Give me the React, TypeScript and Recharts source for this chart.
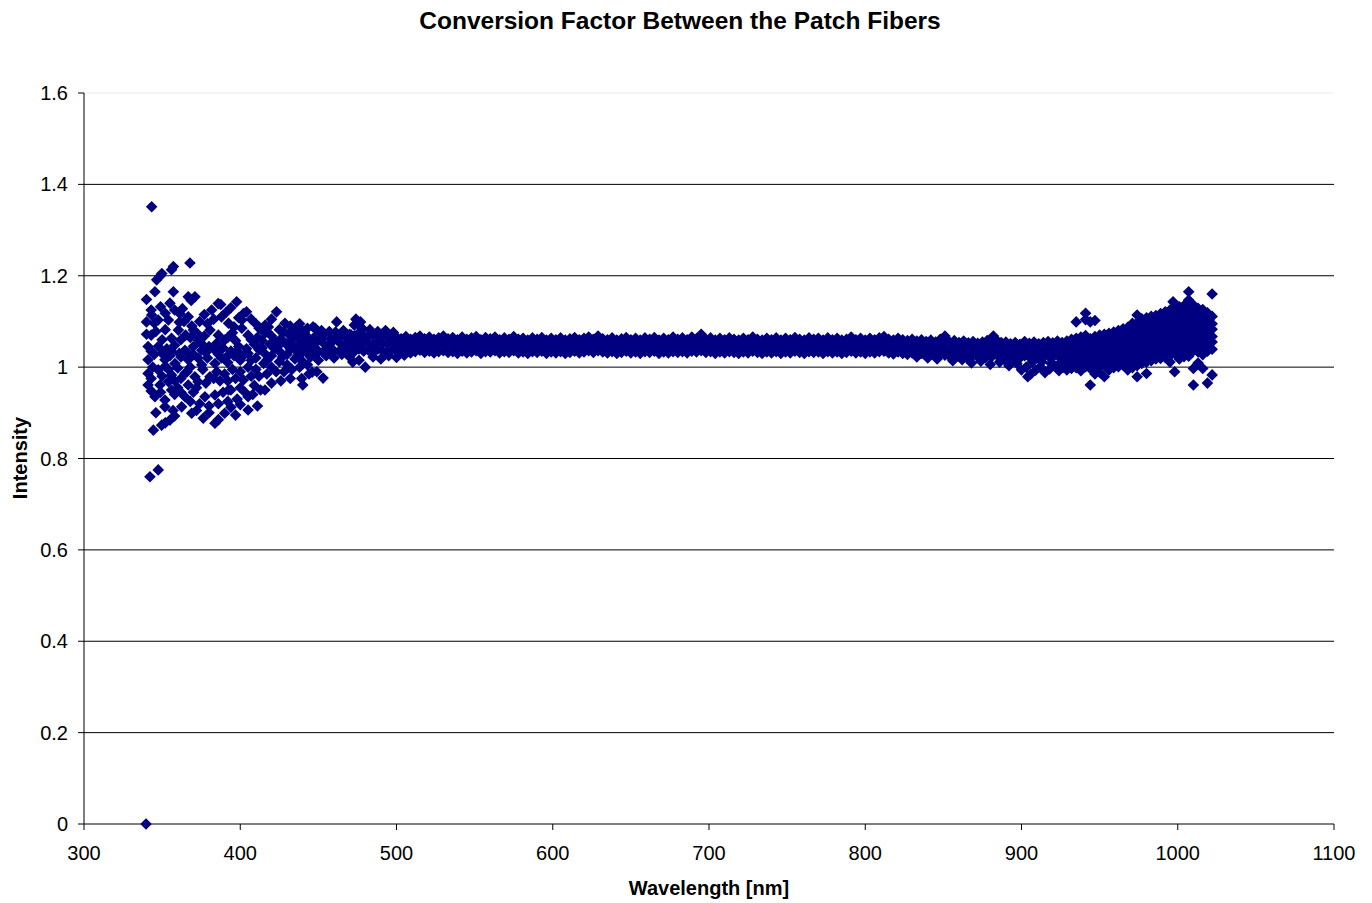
import { CartesianGrid, ReferenceLine, Scatter, ScatterChart, XAxis, YAxis } from "recharts"

// wavelength [nm], intensity — short-wave end where the ratio is noisy
const uvPoints: [number, number][] = [
  [339.7, 0], [343.3, 1.351], [342.2, 0.76], [347.5, 0.775],
  [344.4, 0.862], [349.7, 0.873], [355, 0.884], [352, 0.878],
  [340, 1.148], [345.4, 1.165], [346.5, 1.191], [348.6, 1.199], [349.8, 1.205], [357.2, 1.22], [356, 1.213],
  [367.8, 1.228], [357.2, 1.165], [366.7, 1.154], [371, 1.154], [368.6, 1.146],
  [343.3, 1.114], [340, 1.099], [345, 1.096], [347.5, 1.103], [354, 1.103], [361.4, 1.117], [366.7, 1.11],
  [358, 1.125], [363, 1.128], [381.7, 1.125], [385.9, 1.139], [387.5, 1.137], [397.7, 1.143], [402, 1.117],
  [404, 1.121], [399, 1.108], [423.2, 1.121], [392.5, 1.096], [401, 1.103], [428.6, 1.096], [439.3, 1.081],
  [415.8, 1.074], [410, 1.095], [418, 1.088], [432, 1.09], [436, 1.088], [443, 1.085], [448, 1.085],
  [452, 1.08], [461.7, 1.099], [475.7, 1.099], [446.6, 1.088], [473, 1.092], [457, 1.078], [466, 1.08],
  [343, 1.125], [349, 1.132], [352, 1.118], [355, 1.14], [361, 1.098], [364, 1.1], [369, 1.09], [374, 1.1],
  [377, 1.115], [379, 1.095], [383, 1.105], [388, 1.11], [391, 1.12], [394, 1.13], [396, 1.088], [407, 1.105],
  [412, 1.085], [416, 1.092], [420, 1.105], [425, 1.082], [434, 1.078], [438, 1.095],
  [360.4, 1.081], [370, 1.081], [380.6, 1.081], [373.3, 1.059], [356, 1.063], [390, 1.059], [384.9, 1.052],
  [365, 1.07], [377, 1.068], [395, 1.075], [405, 1.07], [411, 1.065], [420, 1.068], [426, 1.062], [431, 1.072],
  [437, 1.066], [442, 1.07], [447, 1.064], [453, 1.07], [458, 1.062], [463, 1.068], [468, 1.064], [343, 1.07], [350, 1.06],
  [441, 1.075], [451, 1.075], [461, 1.077], [471, 1.07], [442, 1.06], [452, 1.062], [462, 1.06],
  [340, 1.072], [346, 1.078], [352, 1.082], [362, 1.06], [368, 1.065], [372, 1.075], [375, 1.052], [386, 1.07],
  [392, 1.065], [397, 1.058], [401, 1.085], [407, 1.06], [414, 1.058], [417, 1.078], [423, 1.055], [428, 1.078],
  [433, 1.06], [438, 1.045],
  [341, 1.045], [347.5, 1.045], [353, 1.04], [358, 1.048], [364.6, 1.037], [370, 1.045], [375.3, 1.037],
  [380, 1.045], [383.8, 1.037], [389, 1.042], [394, 1.035], [399, 1.045], [404, 1.04], [409, 1.05],
  [414, 1.042], [419, 1.05], [424, 1.045], [429, 1.052], [434, 1.048], [439, 1.055], [444, 1.05],
  [449, 1.055], [454, 1.05], [459, 1.056], [464, 1.052], [469, 1.055], [447, 1.045], [457, 1.045], [467, 1.045],
  [343, 1.035], [350, 1.03], [356, 1.035], [361, 1.03], [367, 1.03], [373, 1.02], [378, 1.032], [386, 1.028],
  [392, 1.025], [398, 1.035], [402, 1.025], [407, 1.015], [412, 1.038], [417, 1.015], [422, 1.04], [427, 1.022],
  [432, 1.04], [437, 1.025], [442, 1.045],
  [341, 1.016], [345, 1.028], [351.8, 1.016], [355, 1.025], [358.2, 1.008], [362, 1.022], [366.7, 1.016],
  [370, 1.028], [375.3, 1.005], [379, 1.02], [383.8, 1.008], [388, 1.02], [392, 1.01], [396, 1.025],
  [400, 1.015], [405, 1.03], [410, 1.02], [415, 1.032], [420, 1.025], [425, 1.035], [430, 1.028],
  [435, 1.038], [440, 1.032], [445, 1.04], [450, 1.035], [455, 1.04], [460, 1.036], [465, 1.04],
  [444, 1.028], [449, 1.03], [454, 1.03], [459, 1.032], [464, 1.035], [469, 1.038],
  [341, 0.986], [344, 1.0], [347.5, 0.994], [352, 1.002], [356, 0.983], [360, 0.998], [364.6, 0.986],
  [368, 1.0], [371, 0.979], [376, 0.995], [380.6, 0.979], [385, 0.99], [390, 0.985], [395, 0.995],
  [400, 0.99], [405, 1.0], [410, 0.995], [415, 1.008], [420, 1.0], [425, 1.012], [430, 1.005],
  [435, 1.018], [440, 1.012], [445, 1.022], [450, 1.015], [455, 1.025], [460, 1.02], [465, 1.028], [470, 1.022],
  [343, 0.975], [350, 0.98], [354, 0.995], [358, 0.97], [362, 0.975], [366, 0.99], [373, 0.968], [378, 0.965],
  [383, 0.975], [387, 0.97], [392, 0.97], [397, 0.975], [402, 0.972], [407, 0.98], [412, 0.98], [417, 0.985],
  [423, 0.99], [428, 0.99], [433, 0.995], [438, 1.0], [443, 1.005],
  [341, 0.961], [348.6, 0.961], [354, 0.968], [360, 0.955], [366.7, 0.961], [372, 0.955],
  [343, 0.948], [349, 0.945], [356, 0.95], [362, 0.945], [368, 0.925], [374, 0.92], [380, 0.915], [386, 0.92],
  [392, 0.925], [398, 0.93], [403, 0.945], [408, 0.94], [413, 0.95],
  [345.4, 0.935], [351.8, 0.928], [358, 0.94], [364.6, 0.935], [370, 0.945], [377.4, 0.935], [383.8, 0.939],
  [389, 0.945], [394, 0.95], [400, 0.955], [392.5, 0.95], [405, 0.935], [409, 0.96], [415.8, 0.95],
  [420, 0.965], [426, 0.97], [432, 0.975], [439.3, 0.975], [444, 0.985], [449, 0.99], [453, 0.976],
  [446, 0.989], [440, 0.961],
  [351.8, 0.913], [357, 0.905], [362.5, 0.913], [368.9, 0.899], [376.3, 0.888], [383.8, 0.877],
  [390, 0.899], [397, 0.895], [405, 0.906], [411, 0.915], [386, 0.885],
  [346, 0.9], [358, 0.893], [372, 0.905], [380, 0.9], [394, 0.912], [400, 0.918],
]

// visible range: the ratio sits in a tight band
const bandWavelengths = [
  470, 473, 476, 479, 482, 485, 488, 491, 494, 497,
  500, 503, 506, 509, 512, 515, 518, 521, 524, 527,
  530, 533, 536, 539, 542, 545, 548, 551, 554, 557,
  560, 563, 566, 569, 572, 575, 578, 581, 584, 587,
  590, 593, 596, 599, 602, 605, 608, 611, 614, 617,
  620, 623, 626, 629, 632, 635, 638, 641, 644, 647,
  650, 653, 656, 659, 662, 665, 668, 671, 674, 677,
  680, 683, 686, 689, 692, 695, 698, 701, 704, 707,
  710, 713, 716, 719, 722, 725, 728, 731, 734, 737,
  740, 743, 746, 749, 752, 755, 758, 761, 764, 767,
  770, 773, 776, 779, 782, 785, 788, 791, 794, 797,
  800, 803, 806, 809, 812, 815, 818, 821, 824, 827,
  830, 833, 836, 839, 842, 845, 848, 851, 854, 857,
  860, 863, 866, 869, 872, 875, 878, 881, 884, 887,
  890, 893, 896, 899, 902, 905, 908, 911, 914, 917,
  920, 923, 926,
]

const bandHigh = [
  1.072, 1.068, 1.075, 1.07, 1.066, 1.071, 1.068, 1.073, 1.067, 1.069,
  1.066, 1.062, 1.067, 1.061, 1.065, 1.068, 1.062, 1.066, 1.061, 1.064,
  1.068, 1.062, 1.065, 1.06, 1.066, 1.061, 1.064, 1.067, 1.06, 1.065,
  1.062, 1.066, 1.06, 1.064, 1.061, 1.067, 1.061, 1.063, 1.059, 1.064,
  1.061, 1.065, 1.059, 1.063, 1.06, 1.064, 1.059, 1.062, 1.065, 1.06,
  1.063, 1.066, 1.061, 1.068, 1.062, 1.06, 1.064, 1.059, 1.062, 1.065,
  1.06, 1.063, 1.059, 1.064, 1.061, 1.065, 1.059, 1.063, 1.06, 1.066,
  1.061, 1.064, 1.06, 1.066, 1.062, 1.072, 1.061, 1.064, 1.059, 1.063,
  1.06, 1.064, 1.061, 1.059, 1.063, 1.06, 1.066, 1.061, 1.059, 1.063,
  1.06, 1.064, 1.059, 1.063, 1.06, 1.065, 1.061, 1.059, 1.064, 1.061,
  1.063, 1.059, 1.064, 1.06, 1.063, 1.059, 1.061, 1.066, 1.06, 1.063,
  1.059, 1.063, 1.06, 1.064, 1.067, 1.061, 1.059, 1.063, 1.06, 1.058,
  1.061, 1.057, 1.06, 1.056, 1.059, 1.055, 1.061, 1.057, 1.055, 1.058,
  1.054, 1.057, 1.053, 1.056, 1.052, 1.055, 1.058, 1.053, 1.059, 1.054,
  1.055, 1.051, 1.054, 1.05, 1.056, 1.052, 1.055, 1.051, 1.054, 1.056,
  1.053, 1.057, 1.054,
]

const bandMid = [
  1.055, 1.051, 1.057, 1.052, 1.054, 1.05, 1.056, 1.053, 1.051, 1.054,
  1.05, 1.048, 1.052, 1.047, 1.05, 1.053, 1.048, 1.051, 1.047, 1.05,
  1.052, 1.048, 1.05, 1.046, 1.051, 1.047, 1.049, 1.052, 1.046, 1.05,
  1.048, 1.051, 1.046, 1.049, 1.047, 1.052, 1.047, 1.048, 1.045, 1.049,
  1.047, 1.05, 1.045, 1.048, 1.046, 1.049, 1.045, 1.047, 1.05, 1.046,
  1.048, 1.051, 1.047, 1.052, 1.048, 1.046, 1.049, 1.045, 1.047, 1.05,
  1.046, 1.048, 1.045, 1.049, 1.047, 1.05, 1.045, 1.048, 1.046, 1.05,
  1.047, 1.049, 1.046, 1.051, 1.048, 1.053, 1.047, 1.049, 1.045, 1.048,
  1.046, 1.049, 1.047, 1.045, 1.048, 1.046, 1.05, 1.047, 1.045, 1.048,
  1.046, 1.049, 1.045, 1.048, 1.046, 1.05, 1.047, 1.045, 1.049, 1.047,
  1.048, 1.045, 1.049, 1.046, 1.048, 1.045, 1.047, 1.05, 1.046, 1.048,
  1.045, 1.048, 1.046, 1.049, 1.051, 1.046, 1.044, 1.048, 1.045, 1.043,
  1.046, 1.042, 1.045, 1.041, 1.044, 1.04, 1.045, 1.041, 1.039, 1.042,
  1.039, 1.042, 1.038, 1.041, 1.037, 1.04, 1.043, 1.038, 1.042, 1.038,
  1.04, 1.036, 1.039, 1.035, 1.04, 1.037, 1.039, 1.035, 1.038, 1.04,
  1.037, 1.041, 1.038,
]

const bandLow = [
  1.038, 1.034, 1.04, 1.035, 1.037, 1.032, 1.039, 1.036, 1.033, 1.037,
  1.035, 1.032, 1.036, 1.031, 1.034, 1.037, 1.032, 1.035, 1.031, 1.034,
  1.036, 1.032, 1.034, 1.03, 1.035, 1.031, 1.033, 1.036, 1.03, 1.034,
  1.033, 1.036, 1.031, 1.034, 1.032, 1.036, 1.031, 1.033, 1.03, 1.034,
  1.032, 1.035, 1.03, 1.033, 1.031, 1.034, 1.03, 1.032, 1.035, 1.031,
  1.033, 1.036, 1.032, 1.036, 1.033, 1.031, 1.034, 1.03, 1.032, 1.035,
  1.031, 1.033, 1.03, 1.034, 1.032, 1.035, 1.03, 1.033, 1.031, 1.034,
  1.032, 1.034, 1.031, 1.035, 1.033, 1.036, 1.032, 1.034, 1.03, 1.033,
  1.031, 1.034, 1.032, 1.03, 1.033, 1.031, 1.035, 1.032, 1.03, 1.033,
  1.031, 1.034, 1.03, 1.033, 1.031, 1.035, 1.032, 1.03, 1.034, 1.032,
  1.033, 1.03, 1.034, 1.031, 1.033, 1.03, 1.032, 1.035, 1.031, 1.033,
  1.03, 1.033, 1.031, 1.034, 1.035, 1.031, 1.029, 1.033, 1.03, 1.028,
  1.031, 1.027, 1.03, 1.026, 1.029, 1.025, 1.03, 1.026, 1.024, 1.027,
  1.024, 1.027, 1.023, 1.026, 1.022, 1.025, 1.028, 1.023, 1.027, 1.023,
  1.025, 1.021, 1.024, 1.02, 1.025, 1.022, 1.024, 1.02, 1.023, 1.025,
  1.022, 1.026, 1.023,
]

const bandOutliers: [number, number][] = [
  [472, 1.011], [476, 1.015], [480, 1.0], [485, 1.022], [490, 1.018], [495, 1.025], [500, 1.021], [505, 1.026],
  [478, 1.085], [483, 1.082], [488, 1.078], [493, 1.08], [498, 1.076], [474, 1.105], [477, 1.099],
  [851, 1.068], [882, 1.068], [833, 1.022], [840, 1.02], [846, 1.018],
  [856, 1.014], [862, 1.016], [868, 1.009], [874, 1.013], [880, 1.006], [886, 1.011], [892, 1.003],
  [897, 1.008], [900, 0.994], [903, 1.0], [906, 0.985], [909, 0.993], [912, 1.001], [915, 0.988],
  [918, 0.996], [921, 1.004], [924, 0.992], [927, 1.0], [904, 0.979], [865, 1.02], [877, 1.021],
  [889, 1.016], [895, 1.018], [907, 1.011], [913, 1.012], [919, 1.008], [925, 1.01],
]

// near-infrared end: wavelength and the spread of values read at it
const nirColumns: [number, number[]][] = [
  [929, [1.057, 1.044, 1.03, 1.018, 1.005, 0.994]],
  [932, [1.061, 1.046, 1.035, 1.02, 1.009, 0.997]],
  [935, [1.099, 1.063, 1.051, 1.036, 1.025, 1.01, 0.999]],
  [938, [1.066, 1.048, 1.037, 1.022, 1.011, 0.992]],
  [941, [1.118, 1.104, 1.069, 1.053, 1.041, 1.026, 1.015, 1.001]],
  [944, [1.099, 1.062, 1.051, 1.036, 1.025, 1.01, 0.997, 0.961]],
  [947, [1.102, 1.067, 1.052, 1.04, 1.025, 1.014, 0.999, 0.985]],
  [950, [1.07, 1.054, 1.043, 1.028, 1.017, 1.002, 0.989]],
  [953, [1.072, 1.056, 1.045, 1.03, 1.019, 1.004, 0.979]],
  [956, [1.074, 1.06, 1.045, 1.034, 1.019, 1.008, 0.994]],
  [959, [1.077, 1.061, 1.05, 1.035, 1.024, 1.009, 0.999]],
  [962, [1.08, 1.066, 1.051, 1.04, 1.025, 1.014, 1.001]],
  [965, [1.084, 1.068, 1.056, 1.041, 1.03, 1.015, 1.004]],
  [968, [1.087, 1.073, 1.057, 1.046, 1.031, 1.02, 1.005, 0.994]],
  [971, [1.096, 1.079, 1.067, 1.051, 1.04, 1.025, 1.014, 0.999]],
  [974, [1.114, 1.097, 1.084, 1.068, 1.056, 1.041, 1.03, 1.015, 1.003, 0.979]],
  [977, [1.106, 1.089, 1.077, 1.061, 1.049, 1.034, 1.023, 1.008]],
  [980, [1.108, 1.092, 1.08, 1.064, 1.052, 1.037, 1.026, 1.011, 0.986]],
  [983, [1.111, 1.095, 1.083, 1.067, 1.055, 1.04, 1.029, 1.014]],
  [986, [1.113, 1.099, 1.083, 1.071, 1.055, 1.044, 1.029, 1.018]],
  [989, [1.117, 1.101, 1.089, 1.073, 1.061, 1.045, 1.034, 1.019]],
  [992, [1.121, 1.105, 1.093, 1.077, 1.065, 1.049, 1.037, 1.021]],
  [995, [1.125, 1.109, 1.097, 1.081, 1.069, 1.053, 1.041, 1.025, 1.011]],
  [997, [1.143, 1.129]],
  [998, [1.126, 1.114, 1.098, 1.086, 1.07, 1.058, 1.042, 1.03, 0.99]],
  [1001, [1.132, 1.116, 1.104, 1.088, 1.076, 1.06, 1.048, 1.032, 1.018]],
  [1004, [1.135, 1.119, 1.107, 1.091, 1.079, 1.063, 1.051, 1.035, 1.023]],
  [1007, [1.165, 1.147, 1.123, 1.107, 1.095, 1.079, 1.067, 1.051, 1.039, 1.024]],
  [1010, [1.136, 1.12, 1.108, 1.092, 1.08, 1.064, 1.052, 1.036, 0.997, 0.961]],
  [1013, [1.129, 1.117, 1.101, 1.089, 1.073, 1.061, 1.045, 1.033, 1.009]],
  [1016, [1.126, 1.111, 1.099, 1.083, 1.071, 1.055, 1.043, 1.027, 0.997]],
  [1019, [1.119, 1.103, 1.091, 1.075, 1.063, 1.047, 1.035, 0.965]],
  [1022, [1.16, 1.111, 1.095, 1.083, 1.067, 1.055, 1.039, 0.983]],
]

const xTicks = [300, 400, 500, 600, 700, 800, 900, 1000, 1100]
const yTicks = [0, 0.2, 0.4, 0.6, 0.8, 1, 1.2, 1.4, 1.6]
const gridValues = [0.2, 0.4, 0.6, 0.8, 1, 1.2, 1.4]

const points = [
  ...uvPoints.map(([w, v]) => ({ w, v })),
  ...bandWavelengths.flatMap((w, i) => [
    { w, v: bandHigh[i] },
    { w, v: bandMid[i] },
    { w, v: bandLow[i] },
  ]),
  ...bandOutliers.map(([w, v]) => ({ w, v })),
  ...nirColumns.flatMap(([w, vals]) => vals.map((v) => ({ w, v }))),
]

const NAVY = "#000080"
const FONT = '"Liberation Sans", Arial, sans-serif'

const Diamond = (props: any) => {
  const { cx, cy } = props
  if (cx == null || cy == null) return null
  const r = 5.8
  return <path d={`M${cx},${cy - r}L${cx + r},${cy}L${cx},${cy + r}L${cx - r},${cy}Z`} fill={NAVY} />
}

const App = () => {
  return (
    <div
      style={{
        position: "absolute",
        left: 0,
        top: 0,
        width: 1372,
        height: 903,
        background: "#fff",
        fontFamily: FONT,
        color: "#000",
      }}
    >
      <div
        style={{
          position: "absolute",
          left: 680,
          top: 8,
          transform: "translateX(-50%)",
          fontSize: 24.5,
          lineHeight: "25px",
          fontWeight: "bold",
          whiteSpace: "nowrap",
        }}
      >
        Conversion Factor Between the Patch Fibers
      </div>
      <ScatterChart width={1372} height={903} margin={{ top: 93, right: 38, bottom: 19, left: 24 }}>
        <CartesianGrid vertical={false} horizontalValues={gridValues} stroke="#000" strokeWidth={1} />
        <ReferenceLine y={1.6} stroke="#ececec" />
        <XAxis
          type="number"
          dataKey="w"
          domain={[300, 1100]}
          ticks={xTicks}
          height={60}
          tickSize={6}
          tickMargin={16}
          tick={{ fill: "#000", fontSize: 20, fontFamily: FONT }}
          axisLine={{ stroke: "#000" }}
          tickLine={{ stroke: "#000" }}
        />
        <YAxis
          type="number"
          dataKey="v"
          domain={[0, 1.6]}
          ticks={yTicks}
          width={60}
          tickSize={6}
          tickMargin={10}
          tickFormatter={(v: number) => String(Number(v.toFixed(1)))}
          tick={{ fill: "#000", fontSize: 20, fontFamily: FONT }}
          axisLine={{ stroke: "#000" }}
          tickLine={{ stroke: "#000" }}
        />
        <Scatter data={points} shape={Diamond} isAnimationActive={false} />
      </ScatterChart>
      <div
        style={{
          position: "absolute",
          left: 709,
          top: 878,
          transform: "translateX(-50%)",
          fontSize: 20,
          lineHeight: "20px",
          fontWeight: "bold",
          whiteSpace: "nowrap",
        }}
      >
        Wavelength [nm]
      </div>
      <div
        style={{
          position: "absolute",
          left: 20,
          top: 458,
          transform: "translate(-50%, -50%) rotate(-90deg)",
          fontSize: 20,
          lineHeight: "20px",
          fontWeight: "bold",
          whiteSpace: "nowrap",
        }}
      >
        Intensity
      </div>
    </div>
  )
}

export default App
